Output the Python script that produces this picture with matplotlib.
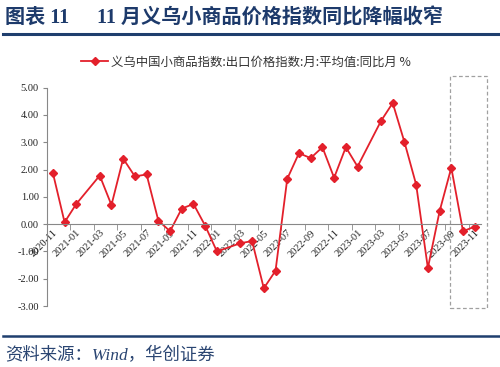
import matplotlib
matplotlib.use("Agg")
import matplotlib.pyplot as plt
from matplotlib.lines import Line2D
from matplotlib.patches import Rectangle

plt.rcParams['font.family'] = ['Liberation Serif', 'Noto Sans CJK SC', 'DejaVu Sans']

months = ['2020-11', '2020-12', '2021-01', '2021-02', '2021-03', '2021-04', '2021-05',
          '2021-06', '2021-07', '2021-08', '2021-09', '2021-10', '2021-11', '2021-12',
          '2022-01', '2022-02', '2022-03', '2022-04', '2022-05', '2022-06', '2022-07',
          '2022-08', '2022-09', '2022-10', '2022-11', '2022-12', '2023-01', '2023-02',
          '2023-03', '2023-04', '2023-05', '2023-06', '2023-07', '2023-08', '2023-09',
          '2023-10', '2023-11']
values = [1.88, 0.07, 0.74, None, 1.78, 0.70, 2.40,
          1.75, 1.82, 0.13, -0.26, 0.57, 0.74, -0.06,
          -1.00, None, -0.70, -0.62, -2.35, -1.71, 1.66,
          2.60, 2.42, 2.82, 1.70, 2.82, 2.11, None,
          3.78, 4.44, 3.01, 1.45, -1.61, 0.47, 2.07,
          -0.26, -0.09]
series_name = '义乌中国小商品指数:出口价格指数:月:平均值:同比月 %'
yticks = [-3, -2, -1, 0, 1, 2, 3, 4, 5]
highlight_start = '2023-09'

W, H = 500, 367
fig = plt.figure(figsize=(W / 100, H / 100), dpi=100)
ax = fig.add_axes([47 / W, 1 - 306 / H, (480.6 - 47) / W, (306 - 87.7) / H])

xs = [i for i, v in enumerate(values) if v is not None]
ys = [v for v in values if v is not None]
red = '#E3202B'
ax.plot(xs, ys, color=red, lw=1.3, marker='D', markersize=4.2,
        markerfacecolor=red, markeredgecolor=red, label=series_name)

ax.set_xlim(-0.5, len(months) - 0.5)
ax.set_ylim(-3, 5)
ax.spines['bottom'].set_position(('data', 0))
ax.spines['bottom'].set_color('#888888')
ax.spines['left'].set_color('#888888')
ax.spines['top'].set_visible(False)
ax.spines['right'].set_visible(False)

ax.tick_params(axis='x', which='major', length=0, pad=3, labelsize=7.5, labelcolor='#222222')
ax.tick_params(axis='x', which='minor', length=4, direction='out', color='#888888')
ax.tick_params(axis='y', length=3, direction='out', color='#888888', pad=3,
               labelsize=7.5, labelcolor='#222222')
ax.set_yticks(yticks)
ax.set_yticklabels([f'{t:.2f}' for t in yticks])
ax.set_xticks([i + 1.5 for i in range(0, len(months) - 2, 2)], minor=True)
ax.set_xticks(range(0, len(months), 2))
ax.set_xticklabels(months[::2], rotation=45, ha='right', va='top',
                   rotation_mode='anchor', fontsize=7.5)

# highlight dashed box
x0 = months.index(highlight_start) - 0.1
x1 = len(months) + 0.04
rect = Rectangle((x0, -3.06), x1 - x0, 5.43 + 3.06, fill=False,
                 ls=(0, (3, 2)), lw=0.9, ec='#A0A0A0', clip_on=False)
ax.add_patch(rect)

# legend
fig.legend(loc='center', bbox_to_anchor=(0.492, 1 - 62 / H), frameon=False,
           prop={'family': ['Noto Sans CJK SC', 'DejaVu Sans'], 'size': 8.9},
           handlelength=2.2, handletextpad=0.2, labelcolor='#333333')

navy = '#1D3A6B'
fig.text(5 / W, 1 - 18 / H, '图表 11', fontsize=14.5, fontweight='bold', color=navy,
         va='center', ha='left')
fig.text(97 / W, 1 - 18 / H, '11 月义乌小商品价格指数同比降幅收窄', fontsize=14.5,
         fontweight='bold', color=navy, va='center', ha='left')
fig.add_artist(Line2D([3 / W, 1], [1 - 33.5 / H, 1 - 33.5 / H], color='#1F3F6E', lw=2.2))
fig.add_artist(Line2D([3 / W, 1], [1 - 336 / H, 1 - 336 / H], color='#1F3F6E', lw=1.8))
fig.text(5 / W, 1 - 356 / H, '资料来源：Wind，华创证券', fontsize=12.5, style='italic',
         color='#2A4572', va='center', ha='left')

fig.savefig('out.png', dpi=100)
